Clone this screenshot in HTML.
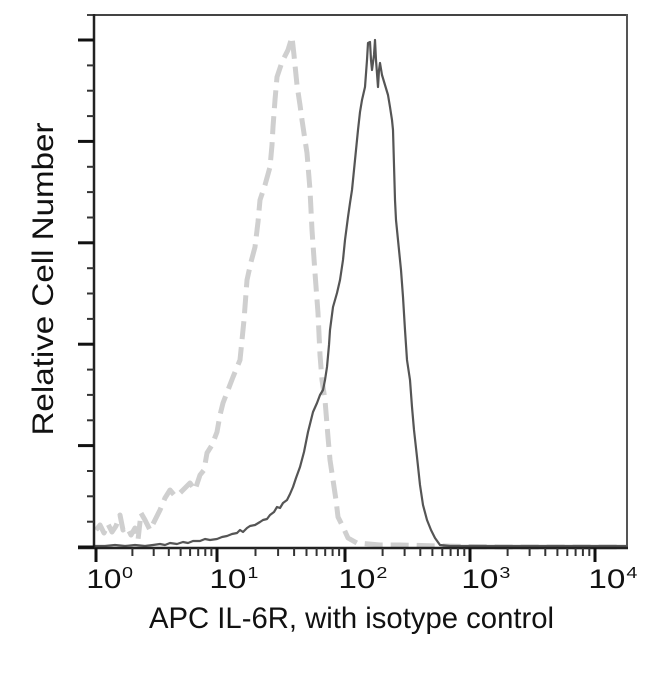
<!DOCTYPE html>
<html>
<head>
<meta charset="utf-8">
<style>
  html,body{margin:0;padding:0;background:#fff;}
  svg{display:block;}
  text{font-family:"Liberation Sans",Arial,Helvetica,sans-serif;fill:#111;}
</style>
</head>
<body>
<svg width="650" height="680" viewBox="0 0 650 680" xmlns="http://www.w3.org/2000/svg">
  <rect width="650" height="680" fill="#fff"/>

  <!-- isotype control (dashed light gray) -->
  <polyline fill="none" stroke="#cfcfcf" stroke-width="5" stroke-dasharray="18 8" stroke-linejoin="round"
    points="96,530 100,525 104,533 108,524 112,532 116,526 120,515 123,530 127,527 131,535 135,528 138,540 141,513 145,520 150,530 155,520 160,510 165,498 170,490 175,496 180,493 185,488 190,483 195,490 200,475 204,470 207,453 212,445 217,432 220,415 223,403 228,390 233,377 240,360 244,320 247,280 251,262 255,247 258,222 260,200 265,185 270,167 272,145 273,127 275,100 277,77 282,62 288,50 292,37 294,55 297,85 300,105 302,120 305,140 307,153 310,190 312,230 315,273 318,313 320,355 322,380 325,400 328,437 330,460 333,480 336,500 338,517 343,527 348,538 357,543 380,545 400,545 440,546 500,547 620,547"/>

  <!-- IL-6R (solid dark gray) -->
  <polyline fill="none" stroke="#555" stroke-width="2.2" stroke-linejoin="round"
    points="95,546 105,546 115,545 125,546 135,545 145,546 153,545 160,544 165,545 170,543 177,544 183,542 188,543 193,541 200,541 205,539 210,540 217,539 222,537 227,536 232,534 237,533 240,530 243,532 247,528 250,526 255,525 260,522 263,520 267,519 270,515 274,512 277,507 280,508 283,503 287,500 290,494 293,487 296,478 300,467 304,452 308,432 311,420 313,412 317,403 320,395 323,390 325,380 327,367 329,345 330,330 333,307 337,293 340,280 343,260 345,240 348,217 350,203 352,190 355,160 358,130 360,112 362,100 365,87 367,60 368,43 370,42 371,60 372,70 374,55 375,40 376,60 378,87 379,70 380,63 382,75 385,85 388,95 390,107 392,120 393,130 394,165 395,200 396,220 398,240 401,270 403,297 405,330 407,360 410,380 412,407 414,430 417,457 420,485 423,505 427,520 431,530 435,538 440,545 450,546 627,546"/>

  <!-- frame -->
  <line x1="87" y1="15" x2="628" y2="15" stroke="#444" stroke-width="2"/>
  <line x1="627" y1="14" x2="627" y2="549" stroke="#555" stroke-width="2"/>
  <line x1="94" y1="14" x2="94" y2="549" stroke="#222" stroke-width="2.5"/>
  <line x1="78" y1="548" x2="628" y2="548" stroke="#222" stroke-width="2.5"/>

  <!-- y major ticks -->
  <g stroke="#111" stroke-width="3">
    <line x1="78" y1="40" x2="94" y2="40"/>
    <line x1="78" y1="141.4" x2="94" y2="141.4"/>
    <line x1="78" y1="242.8" x2="94" y2="242.8"/>
    <line x1="78" y1="344.2" x2="94" y2="344.2"/>
    <line x1="78" y1="445.6" x2="94" y2="445.6"/>
    <line x1="78" y1="547" x2="94" y2="547"/>
  </g>
  <!-- y minor ticks -->
  <g stroke="#333" stroke-width="2">
    <line x1="87" y1="65.4" x2="94" y2="65.4"/>
    <line x1="87" y1="90.7" x2="94" y2="90.7"/>
    <line x1="87" y1="116.1" x2="94" y2="116.1"/>
    <line x1="87" y1="166.8" x2="94" y2="166.8"/>
    <line x1="87" y1="192.1" x2="94" y2="192.1"/>
    <line x1="87" y1="217.5" x2="94" y2="217.5"/>
    <line x1="87" y1="268.2" x2="94" y2="268.2"/>
    <line x1="87" y1="293.5" x2="94" y2="293.5"/>
    <line x1="87" y1="318.9" x2="94" y2="318.9"/>
    <line x1="87" y1="369.6" x2="94" y2="369.6"/>
    <line x1="87" y1="394.9" x2="94" y2="394.9"/>
    <line x1="87" y1="420.3" x2="94" y2="420.3"/>
    <line x1="87" y1="471" x2="94" y2="471"/>
    <line x1="87" y1="496.3" x2="94" y2="496.3"/>
    <line x1="87" y1="521.7" x2="94" y2="521.7"/>
  </g>

  <!-- x major ticks -->
  <g stroke="#111" stroke-width="3">
    <line x1="96" y1="548" x2="96" y2="562"/>
    <line x1="217" y1="548" x2="217" y2="562"/>
    <line x1="345" y1="548" x2="345" y2="562"/>
    <line x1="470" y1="548" x2="470" y2="562"/>
    <line x1="595" y1="548" x2="595" y2="562"/>
  </g>
  <!-- x minor ticks -->
  <g stroke="#333" stroke-width="2">
    <line x1="132.4" y1="548" x2="132.4" y2="556"/>
    <line x1="153.7" y1="548" x2="153.7" y2="556"/>
    <line x1="168.8" y1="548" x2="168.8" y2="556"/>
    <line x1="180.6" y1="548" x2="180.6" y2="556"/>
    <line x1="190.1" y1="548" x2="190.1" y2="556"/>
    <line x1="198.2" y1="548" x2="198.2" y2="556"/>
    <line x1="205.3" y1="548" x2="205.3" y2="556"/>
    <line x1="211.4" y1="548" x2="211.4" y2="556"/>

    <line x1="255.5" y1="548" x2="255.5" y2="556"/>
    <line x1="278.1" y1="548" x2="278.1" y2="556"/>
    <line x1="294.1" y1="548" x2="294.1" y2="556"/>
    <line x1="306.5" y1="548" x2="306.5" y2="556"/>
    <line x1="316.6" y1="548" x2="316.6" y2="556"/>
    <line x1="325.2" y1="548" x2="325.2" y2="556"/>
    <line x1="332.6" y1="548" x2="332.6" y2="556"/>
    <line x1="339.1" y1="548" x2="339.1" y2="556"/>

    <line x1="382.6" y1="548" x2="382.6" y2="556"/>
    <line x1="404.6" y1="548" x2="404.6" y2="556"/>
    <line x1="420.3" y1="548" x2="420.3" y2="556"/>
    <line x1="432.4" y1="548" x2="432.4" y2="556"/>
    <line x1="442.3" y1="548" x2="442.3" y2="556"/>
    <line x1="450.6" y1="548" x2="450.6" y2="556"/>
    <line x1="457.9" y1="548" x2="457.9" y2="556"/>
    <line x1="464.3" y1="548" x2="464.3" y2="556"/>

    <line x1="507.6" y1="548" x2="507.6" y2="556"/>
    <line x1="529.6" y1="548" x2="529.6" y2="556"/>
    <line x1="545.3" y1="548" x2="545.3" y2="556"/>
    <line x1="557.4" y1="548" x2="557.4" y2="556"/>
    <line x1="567.3" y1="548" x2="567.3" y2="556"/>
    <line x1="575.6" y1="548" x2="575.6" y2="556"/>
    <line x1="582.9" y1="548" x2="582.9" y2="556"/>
    <line x1="589.3" y1="548" x2="589.3" y2="556"/>
  </g>

  <!-- x tick labels -->
  <g font-size="26.5">
    <text x="86.4" y="588" textLength="35" lengthAdjust="spacingAndGlyphs">10</text>
    <text x="209.4" y="588" textLength="37" lengthAdjust="spacingAndGlyphs">10</text>
    <text x="338.4" y="588" textLength="37" lengthAdjust="spacingAndGlyphs">10</text>
    <text x="461.4" y="588" textLength="37" lengthAdjust="spacingAndGlyphs">10</text>
    <text x="588.4" y="588" textLength="37" lengthAdjust="spacingAndGlyphs">10</text>
  </g>
  <g font-size="15.5">
    <text x="122" y="578" textLength="11" lengthAdjust="spacingAndGlyphs">0</text>
    <text x="247.4" y="578" textLength="11" lengthAdjust="spacingAndGlyphs">1</text>
    <text x="376.4" y="578" textLength="11" lengthAdjust="spacingAndGlyphs">2</text>
    <text x="499.4" y="578" textLength="11" lengthAdjust="spacingAndGlyphs">3</text>
    <text x="626.4" y="578" textLength="11" lengthAdjust="spacingAndGlyphs">4</text>
  </g>

  <!-- axis labels -->
  <text x="149" y="628" font-size="29.5" textLength="405" lengthAdjust="spacingAndGlyphs">APC IL-6R, with isotype control</text>
  <text transform="translate(53,435.5) rotate(-90)" x="0" y="0" font-size="30" textLength="313" lengthAdjust="spacingAndGlyphs">Relative Cell Number</text>
</svg>
</body>
</html>
